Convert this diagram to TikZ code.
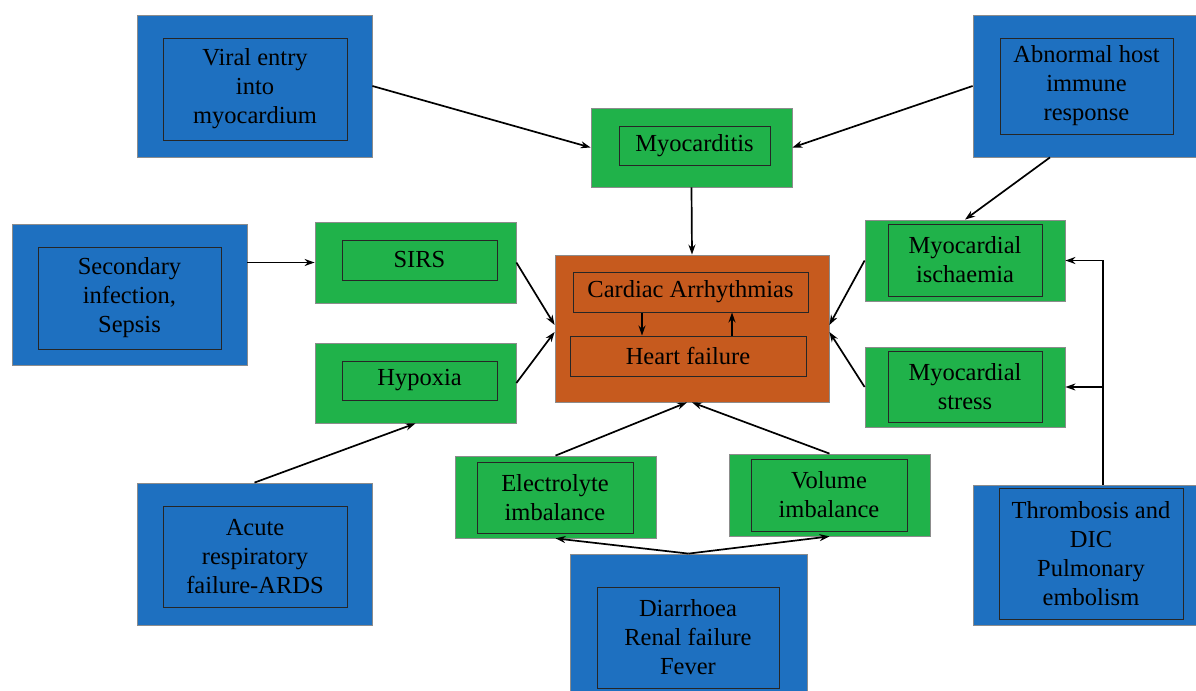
\documentclass[tikz,border=0pt]{standalone}
\usepackage{fontspec}
\setmainfont{Liberation Serif}
\usetikzlibrary{arrows.meta}
\definecolor{boxblue}{RGB}{30,112,192}
\definecolor{boxgreen}{RGB}{32,178,74}
\definecolor{boxorange}{RGB}{198,90,30}
\tikzset{
    sz/.style 2 args={minimum width=#1, minimum height=#2},
    outerbox/.style={draw=black!45, line width=0.4pt, inner sep=0pt},
    bluebox/.style={outerbox, fill=boxblue},
    greenbox/.style={outerbox, fill=boxgreen},
    orangebox/.style={outerbox, fill=boxorange},
    innerbox/.style={draw=black!85, line width=0.5pt, inner sep=0pt, align=center,
        font=\fontsize{12.25}{14.5}\selectfont},
    arr/.style={-{Stealth[length=5pt,width=3.5pt]}, line width=0.85pt},
}

\begin{document}
\begin{tikzpicture}[x=0.5pt,y=-0.5pt]
        \useasboundingbox (0,0) rectangle (1196,691);

        \node[bluebox, sz={117.5pt}{71pt}] (viral) at (254.5,86) {};
        \node[innerbox, sz={92pt}{51pt}] (viraltxt) at (255,89) {Viral entry\\into\\myocardium};
        \node[bluebox, sz={111.5pt}{71pt}] (host) at (1084.5,86) {};
        \node[innerbox, sz={86.5pt}{48pt}] (hosttxt) at (1086.5,86) {Abnormal host\\immune\\response};
        \node[greenbox, sz={100.5pt}{39.5pt}] (myocarditis) at (691.5,147.5) {};
        \node[innerbox, sz={75.5pt}{19.5pt}] (myocarditistxt) at (694.5,145.5) {Myocarditis};

        \node[bluebox, sz={117.5pt}{70.5pt}] (sepsis) at (129.5,294.5) {};
        \node[innerbox, sz={91.5pt}{51pt}] (sepsistxt) at (129.5,298) {Secondary\\infection,\\Sepsis};
        \node[greenbox, sz={100.5pt}{40.5pt}] (sirs) at (415.5,262.5) {};
        \node[innerbox, sz={77.5pt}{20pt}] (sirstxt) at (419.5,260) {SIRS};
        \node[greenbox, sz={100.5pt}{40pt}] (hypoxia) at (415.5,383) {};
        \node[innerbox, sz={77.5pt}{19.5pt}] (hypoxiatxt) at (419.5,380.5) {Hypoxia};

        \node[orangebox, sz={137pt}{73.5pt}] (cardiac) at (692,328.5) {};
        \node[innerbox, sz={117.5pt}{20pt}] (arrhythmia) at (690.5,292) {Cardiac Arrhythmias};
        \node[innerbox, sz={118pt}{20pt}] (hf) at (688,356) {Heart failure};

        \node[greenbox, sz={100pt}{40.5pt}] (ischaemia) at (965,260.5) {};
        \node[innerbox, sz={77pt}{36pt}] (ischaemiatxt) at (965,260) {Myocardial\\ischaemia};
        \node[greenbox, sz={100pt}{40pt}] (stress) at (965,387) {};
        \node[innerbox, sz={77pt}{35.5pt}] (stresstxt) at (965,386.5) {Myocardial\\stress};

        \node[greenbox, sz={100.5pt}{41pt}] (electrolyte) at (555.5,497) {};
        \node[innerbox, sz={78pt}{35.5pt}] (electrolytetxt) at (555,497.5) {Electrolyte\\imbalance};
        \node[greenbox, sz={100.5pt}{41pt}] (volume) at (829.5,495) {};
        \node[innerbox, sz={78pt}{36pt}] (volumetxt) at (829,495) {Volume\\imbalance};

        \node[bluebox, sz={117.5pt}{71pt}] (ards) at (254.5,554) {};
        \node[innerbox, sz={92pt}{50.5pt}] (ardstxt) at (255,556.5) {Acute\\respiratory\\failure-ARDS};
        \node[bluebox, sz={118.5pt}{69pt}] (renal) at (688.5,623) {};
        \node[innerbox, sz={91pt}{50.5pt}] (renaltxt) at (688,637.5) {Diarrhoea\\Renal failure\\Fever};
        \node[bluebox, sz={111.5pt}{70pt}] (thrombosis) at (1084.5,555) {};
        \node[innerbox, sz={92pt}{65.5pt}] (thrombosistxt) at (1091,553.5) {Thrombosis and\\DIC\\Pulmonary\\embolism};

        \draw[arr] (viral.east) -- (myocarditis.west);
        \draw[arr] (host.west) -- (myocarditis.east);
        \draw[arr] (myocarditis.south) -- (cardiac.north);
        \draw[arr] ([xshift=-17.25pt]host.south) -- (ischaemia.north);

        \draw[arr] (sepsis.east |- sirs.west) -- (sirs.west);
        \draw[arr] (sirs.east) -- ([yshift=1.75pt]cardiac.west);
        \draw[arr] (hypoxia.east) -- ([yshift=-1.75pt]cardiac.west);
        \draw[arr] (ards.north) -- (hypoxia.south);

        \draw[arr] (ischaemia.west) -- ([yshift=1.75pt]cardiac.east);
        \draw[arr] (stress.west) -- ([yshift=-1.75pt]cardiac.east);

        \draw[arr] (electrolyte.north) -- ([xshift=-2.5pt]cardiac.south);
        \draw[arr] (volume.north) -- (cardiac.south);
        \draw[arr] (renal.north) -- (electrolyte.south);
        \draw[arr] (renal.north) -- (volume.south);

        \coordinate (tjunc) at ([xshift=9.25pt]thrombosis.north);
        \draw[arr] (tjunc) |- (ischaemia.east);
        \draw[arr] (tjunc |- stress.east) -- (stress.east);

        \draw[arr] ([xshift=-24.25pt]arrhythmia.south) -- ([xshift=-24.25pt]arrhythmia.south |- hf.north);
        \draw[arr] ([xshift=20.75pt]arrhythmia.south |- hf.north) -- ([xshift=20.75pt]arrhythmia.south);
\end{tikzpicture}
\end{document}
